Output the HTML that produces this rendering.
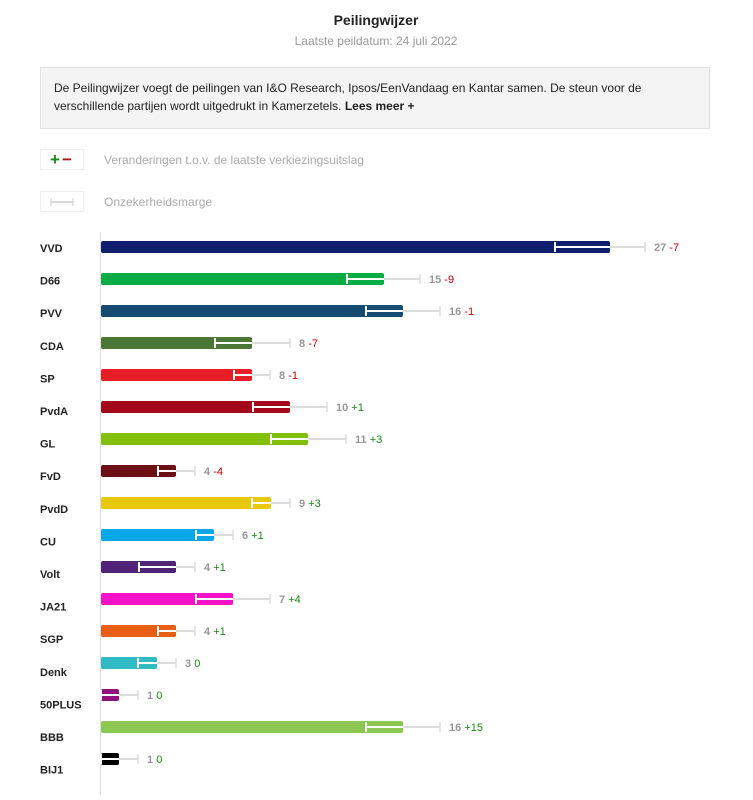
<!DOCTYPE html>
<html><head><meta charset="utf-8"><style>
body{margin:0;background:#fff;font-family:"Liberation Sans",Arial,sans-serif;}
</style></head><body>
<svg width="753" height="795" xmlns="http://www.w3.org/2000/svg" font-family="Liberation Sans, Arial, sans-serif">
<text x="376" y="25" text-anchor="middle" font-size="14" font-weight="bold" fill="#222">Peilingwijzer</text>
<text x="376" y="45" text-anchor="middle" font-size="12" fill="#999">Laatste peildatum: 24 juli 2022</text>
<rect x="40.5" y="67.5" width="669" height="61" fill="#f4f4f4" stroke="#e2e2e2"/>
<text x="54" y="92" font-size="12" fill="#222">De Peilingwijzer voegt de peilingen van I&amp;O Research, Ipsos/EenVandaag en Kantar samen. De steun voor de</text>
<text x="54" y="110" font-size="12" fill="#222">verschillende partijen wordt uitgedrukt in Kamerzetels.  <tspan font-weight="bold">Lees meer +</tspan></text>
<rect x="40.5" y="149.5" width="43" height="20" fill="#fff" stroke="#eee"/>
<text x="50" y="165" font-size="17" font-weight="bold" fill="#1a8a1a">+</text><text x="62" y="165" font-size="17" font-weight="bold" fill="#b01010">−</text>
<text x="104" y="164" font-size="12" fill="#aaa">Veranderingen t.o.v. de laatste verkiezingsuitslag</text>
<rect x="40.5" y="191.5" width="43" height="20" fill="#fff" stroke="#eee"/>
<line x1="51" y1="202" x2="73" y2="202" stroke="#ccc" stroke-width="1.5"/><line x1="51" y1="198" x2="51" y2="206" stroke="#ccc"/><line x1="73" y1="198" x2="73" y2="206" stroke="#ccc"/>
<text x="104" y="206" font-size="12" fill="#aaa">Onzekerheidsmarge</text>
<line x1="100.5" y1="232" x2="100.5" y2="795" stroke="#ddd"/>
<g id="bars" font-size="11"></g>
</svg>
<script>
var d=[["VVD","#0f1f6e",610,555,645,"27","-7"],["D66","#08ac45",384,347,420,"15","-9"],["PVV","#164c72",403,366,440,"16","-1"],["CDA","#4a7636",252,215,290,"8","-7"],["SP","#e81d25",252,234,270,"8","-1"],["PvdA","#a3061a",290,253,327,"10","+1"],["GL","#84bf08",308,271,346,"11","+3"],["FvD","#6b0f14",176,158,195,"4","-4"],["PvdD","#e8c80a",271,252,290,"9","+3"],["CU","#08a8e8",214,196,233,"6","+1"],["Volt","#502379",176,139,195,"4","+1"],["JA21","#f712c9",233,196,270,"7","+4"],["SGP","#e85e15",176,158,195,"4","+1"],["Denk","#2fbac4",157,138,176,"3","0"],["50PLUS","#92117f",119,101,138,"1","0"],["BBB","#8dc753",403,366,440,"16","+15"],["BIJ1","#000000",119,101,138,"1","0"]];
var s="";
d.forEach(function(r,i){var c=247+32*i;var ly=252+32.6*i;
s+='<text x="40" y="'+ly+'" font-weight="bold" fill="#222">'+r[0]+'</text>';
s+='<rect x="101" y="'+(c-6)+'" width="'+(r[2]-101)+'" height="12" rx="2" fill="'+r[1]+'"/>';
s+='<line x1="'+r[2]+'" y1="'+c+'" x2="'+r[4]+'" y2="'+c+'" stroke="#ddd" stroke-width="2"/>';
s+='<line x1="'+r[4]+'" y1="'+(c-5)+'" x2="'+r[4]+'" y2="'+(c+5)+'" stroke="#ddd" stroke-width="1.5"/>';
s+='<line x1="'+r[3]+'" y1="'+c+'" x2="'+r[2]+'" y2="'+c+'" stroke="#fff" stroke-width="2"/>';
s+='<line x1="'+r[3]+'" y1="'+(c-5)+'" x2="'+r[3]+'" y2="'+(c+5)+'" stroke="#fff" stroke-width="2"/>';
var col=r[6][0]=="-"?"#c00000":"#1a8a1a";
s+='<text x="'+(r[4]+9)+'" y="'+(c+4)+'" font-weight="bold" fill="#999">'+r[5]+' <tspan fill="'+col+'" font-weight="normal">'+r[6]+'</tspan></text>';
});
document.getElementById("bars").innerHTML=s;
</script>
</body></html>
